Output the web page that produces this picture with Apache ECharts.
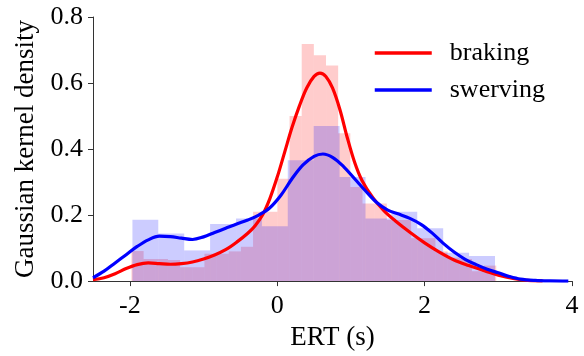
<!DOCTYPE html>
<html>
<head>
<meta charset="utf-8">
<script src="https://cdn.jsdelivr.net/npm/echarts@6/dist/echarts.min.js"></script>
<style>html,body{margin:0;padding:0;background:#fff;}#c{width:584px;height:356px;}</style>
</head>
<body>
<div id="c"></div>
<script>
// ---- data ----
const xTicks = [-2, 0, 2, 4];
const yTicks = [0, 0.2, 0.4, 0.6, 0.8];
const seriesNames = ['braking', 'swerving'];

// histogram bin edges (ERT, s) and densities
const brakingEdges = [-1.978, -1.813, -1.648, -1.483, -1.318, -1.153, -0.988, -0.823, -0.658, -0.493,
  -0.328, -0.163, 0.002, 0.167, 0.332, 0.497, 0.662, 0.827, 0.992, 1.157,
  1.322, 1.487, 1.652, 1.817, 1.982, 2.147, 2.312, 2.477, 2.642, 2.807, 2.972];
const brakingHist = [0.091, 0.067, 0.067, 0.064, 0.042, 0.042, 0.083, 0.083, 0.090, 0.104,
  0.210, 0.210, 0.310, 0.500, 0.718, 0.684, 0.653, 0.448, 0.285, 0.235,
  0.235, 0.185, 0.185, 0.130, 0.130, 0.090, 0.071, 0.067, 0.030, 0.047];

const swervingEdges = [-1.965, -1.614, -1.262, -0.911, -0.559, -0.208, 0.143, 0.495, 0.846, 1.198,
  1.549, 1.900, 2.252, 2.603, 2.955];
const swervingHist = [0.186, 0.144, 0.093, 0.173, 0.190, 0.166, 0.366, 0.470, 0.315, 0.190,
  0.210, 0.160, 0.086, 0.076];

// kernel density curves: [x, density]
const brakingKde = [[-2.5,0.004],[-2.35,0.010],[-2.2,0.022],[-2.05,0.038],[-1.9,0.050],[-1.75,0.055],
  [-1.6,0.053],[-1.45,0.051],[-1.3,0.053],[-1.15,0.058],[-1.0,0.067],[-0.85,0.079],[-0.7,0.095],
  [-0.55,0.118],[-0.4,0.145],[-0.3,0.168],[-0.2,0.200],[-0.1,0.250],[0.0,0.315],[0.1,0.390],
  [0.2,0.465],[0.3,0.530],[0.4,0.585],[0.5,0.620],[0.58,0.630],[0.66,0.620],[0.75,0.585],
  [0.85,0.520],[0.95,0.435],[1.05,0.360],[1.15,0.305],[1.3,0.252],[1.45,0.213],[1.6,0.183],
  [1.8,0.148],[2.0,0.116],[2.2,0.088],[2.4,0.064],[2.6,0.047],[2.8,0.032],[3.0,0.018],
  [3.2,0.008],[3.4,0.002],[3.6,0.0005]];
const swervingKde = [[-2.5,0.010],[-2.35,0.030],[-2.2,0.055],[-2.05,0.080],[-1.9,0.105],[-1.75,0.125],
  [-1.6,0.136],[-1.45,0.135],[-1.3,0.130],[-1.15,0.126],[-1.0,0.134],[-0.85,0.147],[-0.7,0.160],
  [-0.55,0.173],[-0.4,0.185],[-0.25,0.200],[-0.1,0.222],[0.05,0.260],[0.2,0.310],[0.35,0.352],
  [0.5,0.378],[0.62,0.385],[0.75,0.375],[0.9,0.347],[1.05,0.310],[1.2,0.273],[1.35,0.238],
  [1.5,0.215],[1.65,0.203],[1.8,0.190],[1.95,0.172],[2.1,0.146],[2.25,0.115],[2.4,0.088],
  [2.55,0.066],[2.7,0.050],[2.85,0.036],[3.0,0.025],[3.15,0.014],[3.3,0.006],[3.5,0.002],
  [3.7,0.0005],[3.95,0]];

// ---- build ----
function binRows(edges, hist) {
  return hist.map((h, i) => [edges[i], edges[i + 1], h]);
}
function histSeries(name, edges, hist, fill) {
  return {
    type: 'custom', name: name, silent: true, clip: true,
    encode: { x: [0, 1], y: 2 },
    data: binRows(edges, hist),
    renderItem: function (params, api) {
      const p0 = api.coord([api.value(0), api.value(2)]);
      const p1 = api.coord([api.value(1), 0]);
      return { type: 'rect', shape: { x: p0[0], y: p0[1], width: p1[0] - p0[0], height: p1[1] - p0[1] },
        style: { fill: fill } };
    }
  };
}
function lineSeries(name, data, color) {
  return { type: 'line', name: name, data: data, smooth: 0.35, symbol: 'none', clip: true,
    lineStyle: { color: color, width: 3.2 }, itemStyle: { color: color } };
}

const FONT = '"Liberation Serif", "Times New Roman", serif';
const chart = echarts.init(document.getElementById('c'), null, { renderer: 'canvas' });
chart.setOption({
  animation: false,
  backgroundColor: '#fff',
  grid: { left: 93, right: 12, top: 17, bottom: 70 },
  legend: {
    data: seriesNames,
    orient: 'vertical', left: 368, top: 35,
    itemWidth: 57, itemHeight: 26, itemGap: 11,
    itemStyle: { opacity: 0, borderWidth: 0 },
    lineStyle: { width: 3.5 },
    textStyle: { fontFamily: FONT, fontSize: 26, color: '#000', lineHeight: 26, padding: [0, 0, 0, 13] }
  },
  xAxis: {
    type: 'value', min: -2.5, max: 4,
    name: 'ERT (s)', nameLocation: 'middle', nameGap: 40,
    nameTextStyle: { fontFamily: FONT, fontSize: 27, color: '#000' },
    axisLine: { show: true, onZero: false, lineStyle: { color: '#333', width: 1 } },
    axisTick: { show: true, inside: false, length: 5, customValues: xTicks, lineStyle: { color: '#333' } },
    axisLabel: { customValues: xTicks, fontFamily: FONT, fontSize: 26, color: '#000', margin: 12 },
    splitLine: { show: false }
  },
  yAxis: {
    type: 'value', min: 0, max: 0.8, interval: 0.2,
    name: 'Gaussian kernel density', nameLocation: 'middle', nameGap: 52,
    nameTextStyle: { fontFamily: FONT, fontSize: 27, color: '#000' },
    axisLine: { show: true, onZero: false, lineStyle: { color: '#333', width: 1 } },
    axisTick: { show: true, inside: false, length: 5, lineStyle: { color: '#333' } },
    axisLabel: { fontFamily: FONT, fontSize: 26, color: '#000', margin: 10,
      formatter: v => v.toFixed(1) },
    splitLine: { show: false }
  },
  series: [
    histSeries('braking hist', brakingEdges, brakingHist, 'rgba(255,0,0,0.2)'),
    lineSeries(seriesNames[0], brakingKde, '#ff0000'),
    histSeries('swerving hist', swervingEdges, swervingHist, 'rgba(0,0,255,0.2)'),
    lineSeries(seriesNames[1], swervingKde, '#0000ff')
  ]
});
</script>
</body>
</html>
